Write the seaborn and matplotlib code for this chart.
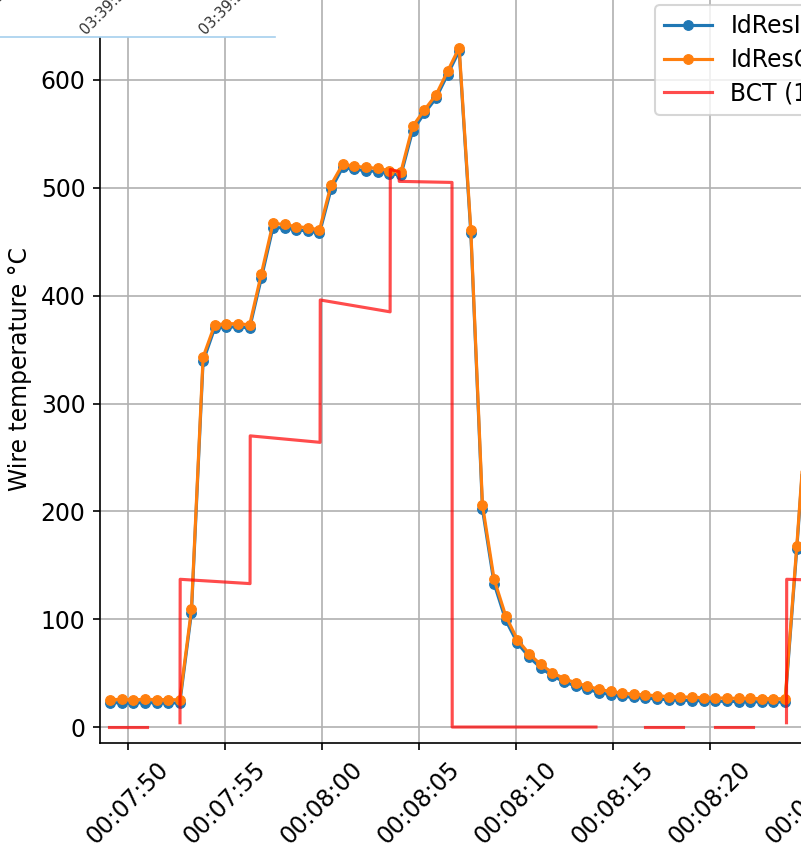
import numpy as np
import pandas as pd
import matplotlib
matplotlib.use("Agg")
import matplotlib.pyplot as plt
import matplotlib.dates as mdates
import seaborn as sns

# Wire temperature, sampled every 0.6 s
sample_start = "2000-01-01 00:07:49.070"
sample_period = "600ms"
id_res_i = [22.5, 22.6, 22.4, 22.6, 22.5, 22.4, 22.3, 106, 339, 370, 371, 371, 370,
            416, 463, 463, 461, 460, 458, 499, 519, 517, 516, 515, 513, 512,
            553, 569, 583, 605, 627, 458, 202, 133, 99, 78, 65, 55, 47.5, 42,
            38, 35, 32, 30, 28.5, 27.5, 26.8, 26, 25.3, 25, 24.6, 24.3, 24,
            23.8, 23.6, 23.5, 23.4, 23.3, 23.2, 165, 317, 370, 371, 371, 370,
            416, 463, 463, 461]
id_res_c = [25.5, 25.6, 25.4, 25.6, 25.5, 25.4, 25.3, 109, 343, 373, 374, 374, 373,
            420, 467, 466, 464, 463, 461, 503, 522, 520, 519, 518, 516, 515,
            557, 572, 586, 608, 630, 461, 206, 137, 103, 81, 68, 58, 50.5, 45,
            41, 38, 35, 33, 31.5, 30.5, 29.8, 29, 28.3, 28, 27.6, 27.3, 27,
            26.8, 26.6, 26.5, 26.4, 26.3, 26.2, 168, 320, 373, 374, 374, 373,
            420, 467, 466, 464]

# BCT trace: seconds after 00:07:50, value, segment (gaps between segments)
bct_sec = [-0.98, 0.98,
           2.68, 2.69, 6.29, 6.30, 9.90, 9.91, 13.51, 13.52, 13.97, 13.98, 16.70, 16.71, 24.12,
           26.65, 28.61,
           30.26, 32.22,
           33.94, 33.95, 39.9]
bct_val = [0, 0,
           4, 137, 133, 270, 264, 396, 385, 517, 515, 506, 505, 0, 0,
           0, 0,
           0, 0,
           4, 137, 134]
bct_seg = [0, 0,
           1, 1, 1, 1, 1, 1, 1, 1, 1, 1, 1, 1, 1,
           2, 2,
           3, 3,
           4, 4, 4]

overlay_labels = ["03:39:34", "03:39:36", "03:39:38"]

times = pd.date_range(sample_start, periods=len(id_res_c), freq=sample_period)
id_df = pd.DataFrame({"time": times, "IdResI": id_res_i, "IdResC": id_res_c})
base = pd.Timestamp("2000-01-01 00:07:50")
bct_df = pd.DataFrame({"time": base + pd.to_timedelta(bct_sec, unit="s"),
                       "value": bct_val, "seg": bct_seg})

plt.rcParams["font.size"] = 11.3

W, H, DPI = 801, 855, 150
fig = plt.figure(figsize=(W / DPI, H / DPI), dpi=DPI)
ax = fig.add_axes([100 / W, (H - 743) / H, 800 / W, 748 / H])

sns.lineplot(data=id_df, x="time", y="IdResI", marker="o", color="C0", lw=1.5,
             markersize=4.6, markeredgecolor="C0", markeredgewidth=0.6,
             label="IdResInt", ax=ax)
sns.lineplot(data=id_df, x="time", y="IdResC", marker="o", color="C1", lw=1.5,
             markersize=4.6, markeredgecolor="C1", markeredgewidth=0.6,
             label="IdResCorr", ax=ax)
sns.lineplot(data=bct_df, x="time", y="value", units="seg", estimator=None,
             color="red", alpha=0.7, lw=1.5, label="BCT (1 A/V)", ax=ax)

ax.set_xlim(base - pd.Timedelta(seconds=1.443), base + pd.Timedelta(seconds=39.79))
ax.set_ylim(-14.8, 678.8)
ax.set_yticks(range(0, 700, 100))
ax.xaxis.set_major_locator(mdates.SecondLocator(bysecond=range(0, 60, 5)))
ax.xaxis.set_major_formatter(mdates.DateFormatter("%H:%M:%S"))
plt.setp(ax.get_xticklabels(), rotation=45)
ax.grid(True)
ax.set_xlabel("")
ax.set_ylabel("Wire temperature °C")

# legend: one entry per series
handles, labels = ax.get_legend_handles_labels()
seen = {}
for h, l in zip(handles, labels):
    if l not in seen:
        seen[l] = h
ax.legend(list(seen.values()), list(seen.keys()), loc="upper left",
          bbox_to_anchor=(655 / W, 1 - 5 / H), bbox_transform=fig.transFigure,
          borderaxespad=0, labelspacing=0.4)

# white strip with rotated clock labels at top-left
ov = fig.add_axes([0, 1 - 37 / H, 275 / W, 37 / H])
ov.set_facecolor("white")
ov.set_xticks([])
ov.set_yticks([])
for s in ["top", "left", "right"]:
    ov.spines[s].set_visible(False)
ov.spines["bottom"].set_color("#a6cfee")
for lab, xp in zip(overlay_labels, [-34, 86, 205]):
    fig.text(xp / W, 1 - 35 / H, lab, rotation=45, rotation_mode="anchor",
             ha="left", va="baseline", fontsize=7, color="#333333")

fig.savefig("out.png", dpi=DPI)
